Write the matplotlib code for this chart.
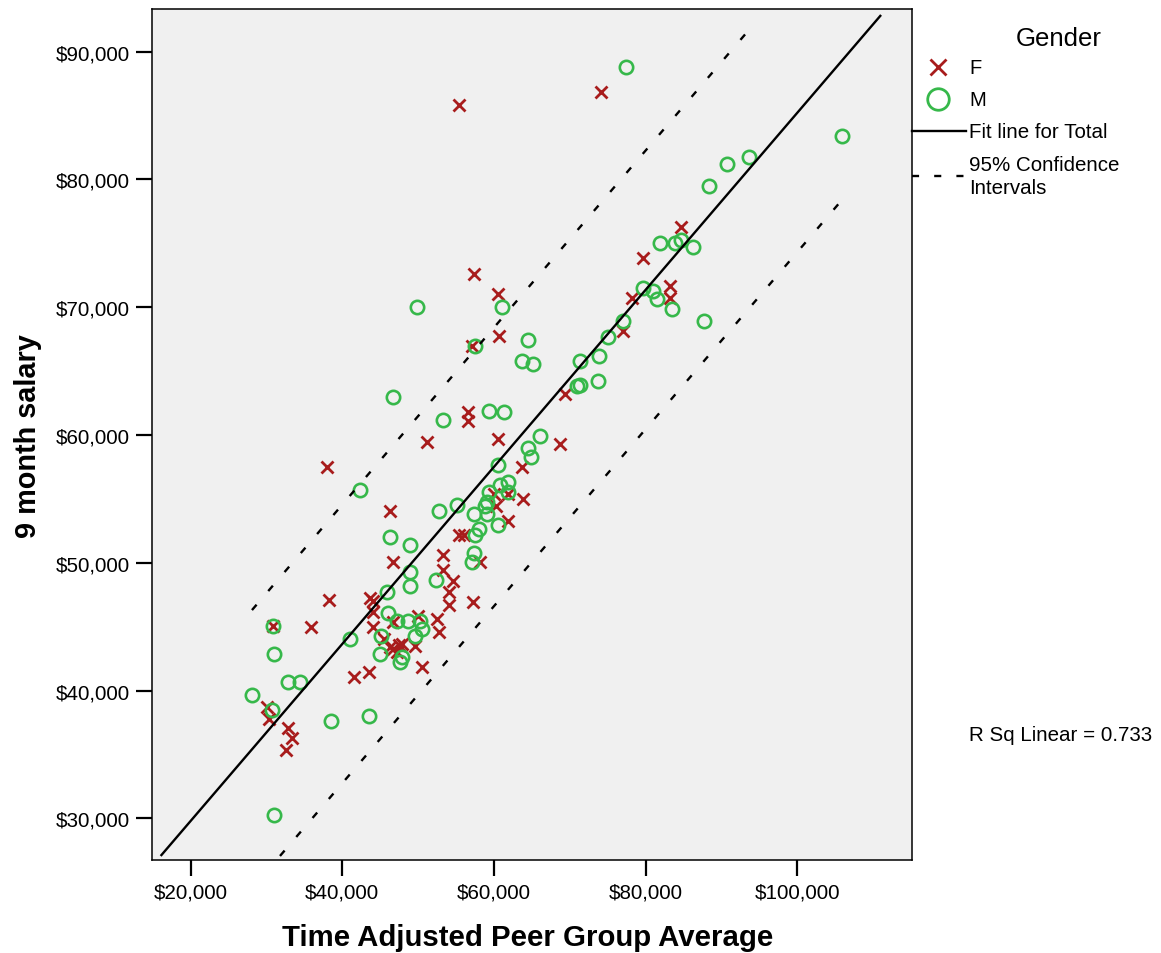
import matplotlib
matplotlib.use("Agg")
import matplotlib.pyplot as plt
from matplotlib.lines import Line2D
from matplotlib.ticker import FuncFormatter, FixedLocator
import numpy as np

plt.rcParams['font.family'] = ['Liberation Sans', 'DejaVu Sans']

# ---------------- data ----------------
female_peer = [38246, 43655, 44051, 44011, 46690, 30858, 35871, 44011, 45502, 46294,
               46690, 47481, 47217, 41544, 43523, 30066, 30330, 32837, 33365, 32573,
               53286, 54606, 54078, 54078, 57244, 58168, 52494, 52758, 49987, 49591,
               47876, 50514, 53286, 46690, 46294, 51176, 56585, 56585, 60543, 69382,
               68722, 63709, 60015, 61862, 60279, 63841, 61862, 55397, 56057, 37982,
               57376, 60543, 60675, 57112, 77040, 84691, 79678, 83240, 83240, 78227,
               55397, 74073]
female_salary = [47098, 47254, 47019, 46159, 45376, 45063, 44985, 44985, 44046, 43420,
                 43264, 43577, 43029, 41073, 41464, 38724, 37785, 37081, 36298, 35359,
                 49445, 48584, 47724, 46706, 46941, 50071, 45611, 44594, 45846, 43498,
                 43655, 41855, 50619, 50071, 54062, 59461, 61808, 61104, 59696, 63217,
                 59304, 57505, 55392, 55392, 54453, 55001, 53279, 52184, 52184, 57505,
                 72610, 71045, 67759, 66976, 68150, 76288, 73862, 71671, 70732, 70732,
                 85832, 86849]

male_peer = [45858, 48932, 48932, 46069, 47177, 48668, 30858, 41016, 45106, 44974,
             47876, 47613, 30990, 32837, 34420, 28087, 30726, 38510, 43523, 30990,
             52362, 50251, 50514, 49591, 57112, 57376, 46690, 53286, 59356, 61334,
             66083, 64501, 64896, 60543, 42337, 59356, 60807, 61862, 61862, 59092,
             58828, 55133, 52758, 57376, 59092, 60543, 58036, 57508, 46294, 48932,
             49855, 61071, 57508, 64501, 63709, 65160, 75054, 71360, 73866, 70964,
             71360, 73734, 88382, 81917, 83896, 84691, 86274, 79678, 80997, 81525,
             83504, 87726, 77040, 90759, 93662, 105931, 77436]
male_salary = [47724, 49289, 48193, 46080, 45454, 45454, 45063, 44046, 44281, 42872,
               42637, 42246, 42872, 40681, 40681, 39664, 38490, 37629, 38020, 30274,
               48663, 45454, 44828, 44281, 50071, 50775, 62983, 61183, 61887, 61808,
               59931, 58992, 58288, 57662, 55705, 55549, 56097, 56332, 55549, 54767,
               54453, 54531, 54062, 53827, 53827, 52966, 52653, 52184, 52027, 51401,
               70027, 70027, 66976, 67446, 65802, 65567, 67681, 65802, 66193, 63844,
               63922, 64235, 79499, 75038, 75038, 75273, 74725, 71515, 71280, 70654,
               69872, 68932, 68932, 81220, 81768, 83411, 88808]

fit_slope = 0.6925
fit_intercept = 15957
ci_half_width = 10900
r_sq = 0.733

x_ticks = [20000, 40000, 60000, 80000, 100000]
y_ticks = [30000, 40000, 50000, 60000, 70000, 80000, 90000]

# ---------------- figure ----------------
W, H = 1161, 954
fig = plt.figure(figsize=(W / 100, H / 100), dpi=100)
ax = fig.add_axes([152 / W, 1 - 861 / H, (912 - 152) / W, (861 - 10) / H])
ax.set_facecolor('#F0F0F0')

xlim = (14900, 115150)
ylim = (26750, 93340)
inner_ylo, inner_yhi = 27066, 92300
ax.set_xlim(*xlim)
ax.set_ylim(*ylim)

RED = '#A81C1C'
GREEN = '#36B84A'
LW = 1.7
DASH = (0, (3.0, 7.6))

ax.plot(female_peer, female_salary, linestyle='none', marker='x', ms=8,
        mew=2.0, color=RED, zorder=3)
ax.plot(male_peer, male_salary, linestyle='none', marker='o', ms=9.6,
        mew=1.9, mfc='none', mec=GREEN, zorder=4)


def clipped_line(x0, x1, offset, yhi):
    # clip y = a*x + b + offset to the inner y range
    xs_lo = (inner_ylo - fit_intercept - offset) / fit_slope
    xs_hi = (yhi - fit_intercept - offset) / fit_slope
    a = max(x0, xs_lo)
    b = min(x1, xs_hi)
    xs = np.array([a, b])
    return xs, fit_slope * xs + fit_intercept + offset


xs, ys = clipped_line(xlim[0], xlim[1], 0, 92872)
ax.plot(xs, ys, color='black', lw=LW, zorder=5, solid_capstyle='butt')

xmin_d, xmax_d = min(female_peer + male_peer), max(female_peer + male_peer)
for off in (ci_half_width, -ci_half_width):
    xs, ys = clipped_line(xmin_d, xmax_d, off, inner_yhi)
    ax.plot(xs, ys, color='black', lw=LW, linestyle=DASH, zorder=5,
            dash_capstyle='butt')

# axes styling
for sp in ax.spines.values():
    sp.set_linewidth(1.1)
ax.xaxis.set_major_locator(FixedLocator(x_ticks))
ax.yaxis.set_major_locator(FixedLocator(y_ticks))
fmt = FuncFormatter(lambda v, p: '${:,.0f}'.format(v))
ax.xaxis.set_major_formatter(fmt)
ax.yaxis.set_major_formatter(fmt)
ax.tick_params(direction='out', length=11.5, width=1.6, labelsize=14.9,
               colors='black')
ax.tick_params(axis='y', pad=4.5)
ax.tick_params(axis='x', pad=5)


# ---------------- labels & legend (figure pixel coords) ----------------
def fx(px):
    return px / W


def fy(py):
    return 1 - py / H


fig.text(fx(528), fy(938), 'Time Adjusted Peer Group Average', fontsize=21.2,
         fontweight='bold', ha='center', va='center')
fig.text(fx(28), fy(436), '9 month salary', fontsize=20.8, fontweight='bold',
         ha='center', va='center', rotation=90)

fig.text(fx(1059), fy(39), 'Gender', fontsize=18.5, ha='center', va='center')
fig.add_artist(Line2D([fx(938)], [fy(68)], marker='x', ms=12, mew=2.0,
                      color=RED, linestyle='none'))
fig.text(fx(969), fy(68), 'F', fontsize=14.5, ha='left', va='center')
fig.add_artist(Line2D([fx(938)], [fy(100)], marker='o', ms=15.5, mew=2.0,
                      mfc='none', mec=GREEN, linestyle='none'))
fig.text(fx(969), fy(100), 'M', fontsize=14.5, ha='left', va='center')
fig.add_artist(Line2D([fx(912), fx(966)], [fy(132), fy(132)], color='black',
                      lw=LW))
fig.text(fx(969), fy(132), 'Fit line for Total', fontsize=14.8, ha='left',
         va='center')
# legend dashes: three short segments as in the reference
fig.add_artist(Line2D([fx(912), fx(966)], [fy(177), fy(177)], color='black',
                      lw=LW, linestyle=(0, (3.0, 6.4)), dash_capstyle='butt'))
fig.text(fx(969), fy(177), '95% Confidence\nIntervals', fontsize=14.8,
         ha='left', va='center', linespacing=1.25)

fig.text(fx(969), fy(736), 'R Sq Linear = {:.3f}'.format(r_sq), fontsize=14.8,
         ha='left', va='center')

fig.savefig('out.png', dpi=100, facecolor='white')
